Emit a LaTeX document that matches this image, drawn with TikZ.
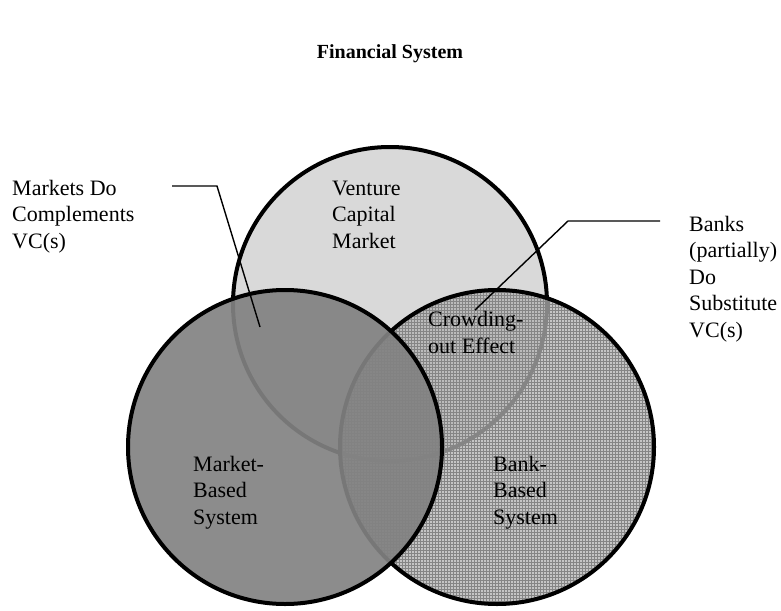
\documentclass[tikz,border=0pt]{standalone}
\usepackage{fontspec}
\setmainfont{Liberation Serif}
\usetikzlibrary{patterns,positioning}

\begin{document}
\begin{tikzpicture}[x=1pt,y=-1pt,
    set/.style={circle,draw,line width=4pt,minimum size=314pt,inner sep=0pt},
    lbl/.style={align=left,anchor=base west,inner sep=0pt,font=\fontsize{22}{26.5}\selectfont},
    lead/.style={line width=1.4pt}]
   \useasboundingbox (0,0) rectangle (781,610);
   \node[font=\bfseries\fontsize{20}{24}\selectfont] (title) at (390,54) {Financial System};
   % the three sets
   \node[set,fill=black!15] (vc) at (390,304) {};
   \node[set,preaction={fill=black!30,fill opacity=0.75},pattern=grid,pattern color=black!48] (bank) at (497,447) {};
   \node[set,fill=black!49,fill opacity=0.92] (market) at (285,447) {};
   % texts (anchored at the last line)
   \node[lbl] (vctext) at (332,248) {Venture\\Capital\\Market};
   \node[lbl] (mkttext) at (193,524) {Market-\\Based\\System};
   \node[lbl] (banktext) at (493,524) {Bank-\\Based\\System};
   \node[lbl] (crowd) at (428,353) {Crowding-\\out Effect};
   \node[lbl] (compl) at (12,248) {Markets Do\\Complements\\VC(s)};
   \node[lbl] (subst) at (689,337) {Banks\\(partially)\\Do\\Substitute\\VC(s)};
   % leaders
   \coordinate (cl0) at (172,186);
   \coordinate (cl1) at (217,186);
   \coordinate (cl2) at (260,327);
   \coordinate (sl0) at (660,221);
   \coordinate (sl1) at (568,221);
   \coordinate (sl2) at (475,310);
   \draw[lead] (cl0) -- (cl1) -- (cl2);
   \draw[lead] (sl0) -- (sl1) -- (sl2);
\end{tikzpicture}
\end{document}
